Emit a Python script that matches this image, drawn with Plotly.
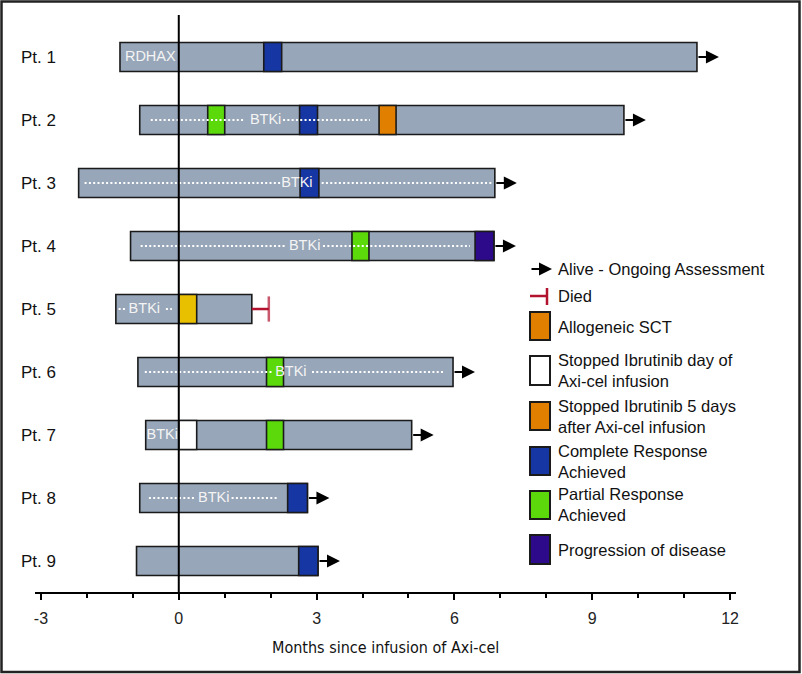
import plotly.graph_objects as go

# ---------------- data ----------------
patients = ["Pt. 1", "Pt. 2", "Pt. 3", "Pt. 4", "Pt. 5", "Pt. 6", "Pt. 7", "Pt. 8", "Pt. 9"]
start = [-1.28, -0.85, -2.18, -1.05, -1.37, -0.89, -0.72, -0.85, -0.92]
end = [11.28, 9.69, 6.88, 6.86, 1.59, 5.97, 5.07, 2.80, 3.03]
outcome = ["alive", "alive", "alive", "alive", "died", "alive", "alive", "alive", "alive"]
died_at = [1.96]  # Pt. 5

cr_pt = ["Pt. 1", "Pt. 2", "Pt. 3", "Pt. 8", "Pt. 9"]
cr_from = [1.85, 2.63, 2.64, 2.37, 2.61]
cr_to = [2.24, 3.02, 3.05, 2.80, 3.03]

pr_pt = ["Pt. 2", "Pt. 4", "Pt. 6", "Pt. 7"]
pr_from = [0.63, 3.77, 1.91, 1.91]
pr_to = [1.00, 4.14, 2.28, 2.28]

sct_pt = ["Pt. 2"]
sct_from = [4.36]
sct_to = [4.73]

pd_pt = ["Pt. 4"]
pd_from = [6.45]
pd_to = [6.86]

stop0_pt = ["Pt. 7"]
stop0_from = [0.0]
stop0_to = [0.39]

stop5_pt = ["Pt. 5"]
stop5_from = [0.0]
stop5_to = [0.39]

therapy_pt = ["Pt. 1", "Pt. 2", "Pt. 3", "Pt. 4", "Pt. 5", "Pt. 6", "Pt. 7", "Pt. 8"]
therapy_label = ["RDHAX", "BTKi", "BTKi", "BTKi", "BTKi", "BTKi", "BTKi", "BTKi"]
therapy_x = [-0.62, 1.89, 2.57, 2.74, -0.75, 2.44, -0.36, 0.76]

dot_pt = ["Pt. 2", "Pt. 2", "Pt. 3", "Pt. 3", "Pt. 4", "Pt. 4", "Pt. 5", "Pt. 5",
          "Pt. 6", "Pt. 6", "Pt. 8", "Pt. 8"]
dot_from = [-0.61, 2.27, -2.05, 3.11, -0.83, 3.14, -1.31, -0.28, -0.74, 2.90, -0.65, 1.15]
dot_to = [1.44, 4.16, 2.22, 6.84, 2.31, 6.34, -1.15, -0.15, 2.05, 5.79, 0.35, 2.16]

x_ticks = [-3, 0, 3, 6, 9, 12]

# ---------------- style ----------------
GRAY = "#97A6B8"
BLUE = "#1636A3"
GREEN = "#5BD90B"
ORANGE = "#E07F00"
PURPLE = "#2D0A8A"
YELLOW = "#E8C000"
WHITE = "#FFFFFF"
RED = "#B3122E"
EDGE = "#1a1a1a"
FONT = "Liberation Sans, Arial, Helvetica, sans-serif"
NARROW = "DejaVu Sans Condensed, Liberation Sans Narrow, Arial Narrow, sans-serif"
BAR_W = 0.46

W, H = 802, 674
L, R, T, B = 35, 736, 15, 592
X_RANGE = [-3.13, 12.13]


def px(xp):
    return (xp - L) / (R - L)


def py(yp):
    return (B - yp) / (B - T)


fig = go.Figure()


def add_blocks(pts, a, b, color):
    fig.add_trace(go.Bar(
        y=pts, x=[bb - aa for aa, bb in zip(a, b)], base=a, orientation="h",
        width=BAR_W, marker=dict(color=color, line=dict(color=EDGE, width=1.6)),
        showlegend=False, hoverinfo="skip"))


add_blocks(patients, start, end, GRAY)
add_blocks(cr_pt, cr_from, cr_to, BLUE)
add_blocks(pr_pt, pr_from, pr_to, GREEN)
add_blocks(sct_pt, sct_from, sct_to, ORANGE)
add_blocks(pd_pt, pd_from, pd_to, PURPLE)
add_blocks(stop0_pt, stop0_from, stop0_to, WHITE)
add_blocks(stop5_pt, stop5_from, stop5_to, YELLOW)

# dotted therapy lines
dx, dy = [], []
for p, a, b in zip(dot_pt, dot_from, dot_to):
    dx += [a, b, None]
    dy += [p, p, None]
fig.add_trace(go.Scatter(x=dx, y=dy, mode="lines",
                         line=dict(color="white", width=2, dash="2px,2.3px"),
                         showlegend=False, hoverinfo="skip"))

# therapy labels
fig.add_trace(go.Scatter(x=therapy_x, y=therapy_pt, mode="text", text=therapy_label,
                         textfont=dict(color="#F4F4F4", size=14.5, family=FONT),
                         showlegend=False, hoverinfo="skip"))

# died marker
for p, e, o in zip(patients, end, outcome):
    if o == "died":
        fig.add_trace(go.Scatter(x=[e, died_at[0]], y=[p, p], mode="lines+markers",
                                 line=dict(color=RED, width=2.5),
                                 marker=dict(symbol="line-ns", size=[0, 18],
                                             line=dict(color=RED, width=2.5)),
                                 showlegend=False, hoverinfo="skip"))

annotations = []
# alive arrows
ARROW_PX = 22
PX_PER_UNIT = (R - L) / (X_RANGE[1] - X_RANGE[0])
for i, (p, e, o) in enumerate(zip(patients, end, outcome)):
    if o == "alive":
        annotations.append(dict(x=e + ARROW_PX / PX_PER_UNIT, y=p, xref="x", yref="y",
                                ax=-ARROW_PX, ay=0, showarrow=True, arrowhead=2,
                                arrowsize=1.3, arrowwidth=2, arrowcolor="#000", text=""))

# patient labels
for p in patients:
    annotations.append(dict(x=px(19), y=p, xref="paper", yref="y", text=p,
                            showarrow=False, xanchor="left", yanchor="middle",
                            font=dict(size=17, color="#111", family=FONT)))

# x title
annotations.append(dict(x=px(385), y=py(647), xref="paper", yref="paper",
                        text="Months since infusion of Axi-cel", showarrow=False,
                        xanchor="center", yanchor="middle",
                        font=dict(size=16, color="#111", family=NARROW)))

# ----- legend -----
LEG_FONT = dict(size=16.5, color="#111", family=FONT)
TX = 556
annotations.append(dict(x=px(552), y=py(269), xref="paper", yref="paper", ax=-22, ay=0,
                        showarrow=True, arrowhead=2, arrowsize=1.3, arrowwidth=2,
                        arrowcolor="#000", text=""))
leg_texts = [
    (269, "Alive - Ongoing Assessment"),
    (296, "Died"),
    (327, "Allogeneic SCT"),
    (370, "Stopped Ibrutinib day of<br>Axi-cel infusion"),
    (416, "Stopped Ibrutinib 5 days<br>after Axi-cel infusion"),
    (461, "Complete Response<br>Achieved"),
    (505, "Partial Response<br>Achieved"),
    (550, "Progression of disease"),
]
for yy, t in leg_texts:
    annotations.append(dict(x=px(TX), y=py(yy), xref="paper", yref="paper", text=t,
                            showarrow=False, xanchor="left", yanchor="middle", align="left",
                            font=LEG_FONT))

shapes = []
# vertical line at infusion
shapes.append(dict(type="line", x0=0, x1=0, xref="x", y0=0, y1=1, yref="paper",
                   line=dict(color="#000", width=2), layer="above"))
# died legend symbol
shapes.append(dict(type="line", xref="paper", yref="paper", x0=px(530), x1=px(547),
                   y0=py(296), y1=py(296), line=dict(color=RED, width=2.5)))
shapes.append(dict(type="line", xref="paper", yref="paper", x0=px(547), x1=px(547),
                   y0=py(288), y1=py(305), line=dict(color=RED, width=2.5)))
leg_boxes = [(312, 340, ORANGE), (356, 385, WHITE), (402, 430, ORANGE),
             (447, 475, BLUE), (491, 519, GREEN), (535, 564, PURPLE)]
for y0, y1, c in leg_boxes:
    shapes.append(dict(type="rect", xref="paper", yref="paper", x0=px(530), x1=px(550),
                       y0=py(y1), y1=py(y0), fillcolor=c, line=dict(color=EDGE, width=2)))
# outer frame
shapes.append(dict(type="rect", xref="paper", yref="paper", x0=px(1.5), x1=px(799.5),
                   y0=py(672), y1=py(1.5), line=dict(color="#222", width=2.5)))

fig.update_layout(
    width=W, height=H, margin=dict(l=L, r=W - R, t=T, b=H - B, pad=0),
    paper_bgcolor="white", plot_bgcolor="white", barmode="overlay",
    showlegend=False, font=dict(family=FONT, color="#111"),
    annotations=annotations, shapes=shapes,
    xaxis=dict(range=X_RANGE, tickvals=x_ticks, ticktext=[str(v) for v in x_ticks],
               showgrid=False, zeroline=False, showline=True, linecolor="#000", linewidth=2,
               ticks="outside", ticklen=6, tickwidth=2, tickcolor="#000",
               ticklabelstandoff=5,
               tickfont=dict(size=16, color="#222", family=FONT),
               minor=dict(dtick=1, tick0=0, ticks="outside", ticklen=4, tickwidth=1.5,
                          tickcolor="#000", showgrid=False),
               fixedrange=True),
    yaxis=dict(categoryorder="array", categoryarray=patients,
               range=[8.492, -0.667], showticklabels=False, showgrid=False,
               zeroline=False, showline=False, ticks="", fixedrange=True),
)

fig.write_html("out.html", config={"displayModeBar": False},
               post_script="document.body.style.margin='0';")
